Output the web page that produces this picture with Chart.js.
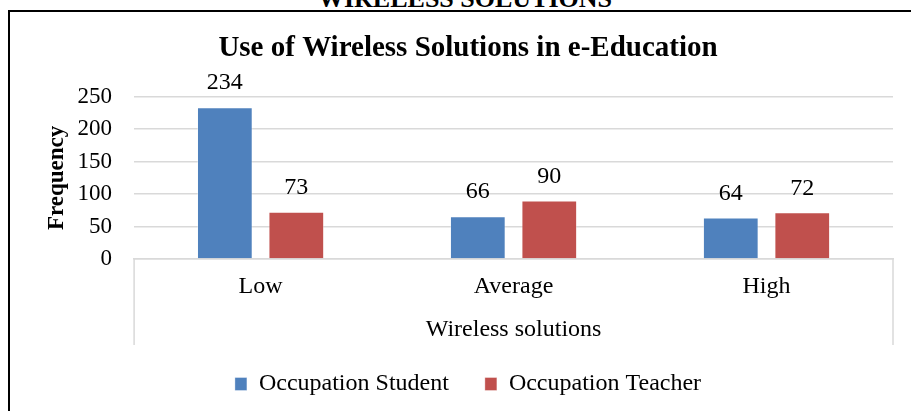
<!DOCTYPE html>
<html>
<head>
<meta charset="utf-8">
<script src="https://cdn.jsdelivr.net/npm/chart.js@4.4.1/dist/chart.umd.min.js"></script>
<style>
  html, body { margin: 0; padding: 0; background: #fff; }
  #page { position: relative; width: 911px; height: 411px; overflow: hidden; }
  #heading { position: absolute; left: 0; width: 930px; top: -16px; line-height: 26px;
    text-align: center; font: bold 26px "Liberation Serif", "Times New Roman", serif; color: #000; }
  #frame { position: absolute; left: 8px; top: 10px; right: -10px; bottom: -10px;
    border-left: 2px solid #000; border-top: 2px solid #000; }
  #wrap { position: absolute; left: 0; top: 0; width: 911px; height: 411px; }
</style>
</head>
<body>
<div id="page">
  <div id="heading">WIRELESS SOLUTIONS</div>
  <div id="frame"></div>
  <div id="wrap"><canvas id="chart"></canvas></div>
</div>
<script>
// données
const categories = ["Low", "Average", "High"];
const studentValues = [234, 66, 64];
const teacherValues = [73, 90, 72];
const yTicks = [0, 50, 100, 150, 200, 250];

const serif = '"Liberation Serif", "Times New Roman", serif';

// étiquettes de valeur au-dessus des barres
const valueLabels = {
    id: 'valueLabels',
    afterDatasetsDraw(chart) {
        const ctx = chart.ctx;
        ctx.save();
        ctx.font = '24px ' + serif;
        ctx.fillStyle = '#000';
        ctx.textAlign = 'center';
        ctx.textBaseline = 'middle';
        chart.data.datasets.forEach((ds, i) => {
            chart.getDatasetMeta(i).data.forEach((bar, j) => {
                ctx.fillText(ds.data[j], bar.x, bar.y - 24);
            });
        });
        ctx.restore();
    }
};

// traits verticaux de l'axe des catégories (bords gauche et droit)
const axisBox = {
    id: 'axisBox',
    afterDraw(chart) {
        const {ctx, chartArea} = chart;
        ctx.save();
        ctx.strokeStyle = '#d9d9d9';
        ctx.lineWidth = 1.5;
        [chartArea.left, chartArea.right].forEach(x => {
            ctx.beginPath();
            ctx.moveTo(x, chartArea.bottom);
            ctx.lineTo(x, chartArea.bottom + 86);
            ctx.stroke();
        });
        ctx.restore();
    }
};

const ctx = document.getElementById("chart").getContext("2d");
const chart = new Chart(ctx, {
    type: 'bar',
    data: {
        labels: categories,
        datasets: [{
            label: 'Occupation Student',
            data: studentValues,
            backgroundColor: '#4F81BD',
            borderColor: 'rgba(255,255,255,0.35)',
            borderWidth: 1,
            categoryPercentage: 0.565,
            barPercentage: 0.78
        }, {
            label: 'Occupation Teacher',
            data: teacherValues,
            backgroundColor: '#C0504D',
            borderColor: 'rgba(255,255,255,0.35)',
            borderWidth: 1,
            categoryPercentage: 0.565,
            barPercentage: 0.78
        }]
    },
    options: {
        responsive: true,
        maintainAspectRatio: false,
        animation: false,
        layout: { padding: { left: 43, right: 18, top: 0, bottom: 5 } },
        plugins: {
            title: {
                display: true,
                text: 'Use of Wireless Solutions in e-Education',
                color: '#000',
                font: { family: serif, size: 29, weight: 'bold' },
                padding: { top: 31, bottom: 31 }
            },
            legend: {
                position: 'bottom',
                labels: {
                    color: '#000',
                    font: { family: serif, size: 24 },
                    boxWidth: 12,
                    boxHeight: 13,
                    padding: 36
                }
            },
            tooltip: { enabled: false }
        },
        scales: {
            x: {
                grid: { display: false, drawTicks: false },
                border: { display: true, color: '#d9d9d9', width: 1.5 },
                ticks: { color: '#000', font: { family: serif, size: 24 }, padding: 13 },
                title: {
                    display: true,
                    text: 'Wireless solutions',
                    color: '#000',
                    font: { family: serif, size: 24 },
                    padding: { top: 1.4, bottom: -8 }
                }
            },
            y: {
                min: 0,
                max: 250,
                afterBuildTicks: (axis) => { axis.ticks = yTicks.map(v => ({ value: v })); },
                grid: { color: '#d9d9d9', lineWidth: 1.5, drawTicks: false },
                border: { display: false },
                ticks: { color: '#000', font: { family: serif, size: 23 }, padding: 22, autoSkip: false },
                title: {
                    display: true,
                    text: 'Frequency',
                    color: '#000',
                    font: { family: serif, size: 23, weight: 'bold' },
                    padding: { top: 0, bottom: -15 }
                }
            }
        }
    },
    plugins: [valueLabels, axisBox]
});
</script>
</body>
</html>
